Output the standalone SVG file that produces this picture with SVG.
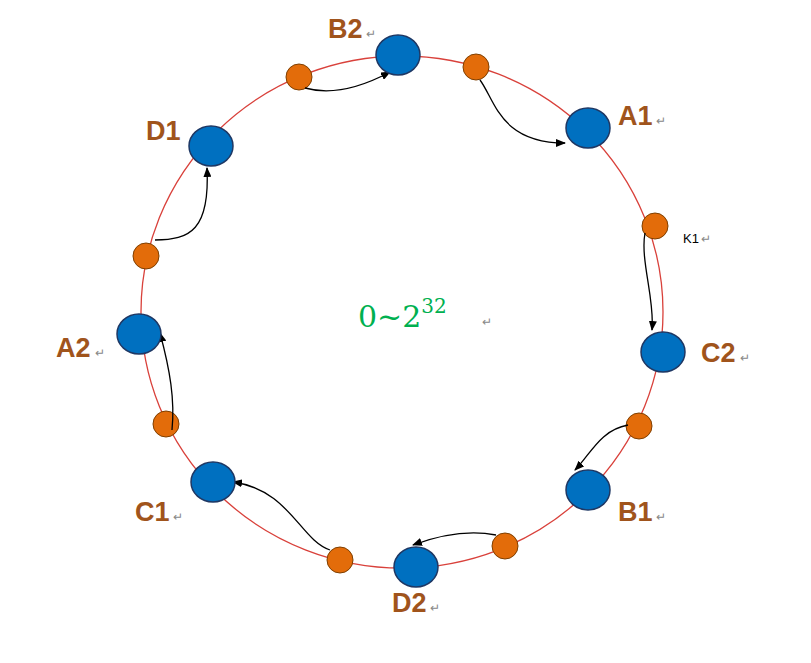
<svg xmlns="http://www.w3.org/2000/svg" width="811" height="663" viewBox="0 0 811 663">
<defs>
<marker id="ah" markerWidth="10" markerHeight="8" refX="9" refY="4" orient="auto" markerUnits="userSpaceOnUse"><path d="M0,0 L10,4 L0,8 z" fill="#000"/></marker>
<style>
.blue{fill:#0070C0;stroke:#1F3864;stroke-width:1.5}
.or{fill:#E36C0A;stroke:#7F3F00;stroke-width:1}
.lb{font-family:"Liberation Sans",Arial,sans-serif;font-weight:bold;font-size:27px;fill:#A0541C}
.rm{font-family:"Liberation Sans",sans-serif;font-size:12px;fill:#888}
.cn path{fill:none;stroke:#000;stroke-width:1.3;marker-end:url(#ah)}
</style>
</defs>
<rect width="811" height="663" fill="#fff"/>
<ellipse cx="402" cy="312" rx="261" ry="256" fill="none" stroke="#D9413B" stroke-width="1.3"/>
<g id="orange">
<circle class="or" cx="299" cy="77" r="13"/><circle class="or" cx="476" cy="67" r="13"/>
<circle class="or" cx="655" cy="226" r="13"/><circle class="or" cx="639" cy="426" r="13"/>
<circle class="or" cx="505" cy="546" r="13"/><circle class="or" cx="340" cy="560" r="13"/>
<circle class="or" cx="166" cy="424" r="13"/><circle class="or" cx="146" cy="256" r="13"/>
</g>
<g class="cn" id="connectors">
<path d="M305,88 C330,95 360,88 390,72"/>
<path d="M480,80 C495,100 500,143 565,143"/>
<path d="M645,233 C640,260 655,300 652,330"/>
<path d="M628,425 C600,430 590,455 575,470"/>
<path d="M496,535 C470,530 440,535 413,545"/>
<path d="M330,550 C300,540 290,490 233,482"/>
<path d="M172,430 C175,400 170,370 160,333"/>
<path d="M155,240 C190,240 210,230 207,168"/>
</g>
<g id="B2"><ellipse class="blue" cx="398" cy="55" rx="22" ry="20"/><text class="lb" x="328" y="38">B2</text><text class="rm" x="366" y="38">↵</text></g>
<g id="A1"><ellipse class="blue" cx="588" cy="128" rx="22" ry="20"/><text class="lb" x="618" y="125">A1</text><text class="rm" x="656" y="125">↵</text></g>
<g id="C2"><ellipse class="blue" cx="663" cy="352" rx="22" ry="20"/><text class="lb" x="701" y="362">C2</text><text class="rm" x="740" y="362">↵</text></g>
<g id="B1"><ellipse class="blue" cx="588" cy="490" rx="22" ry="20"/><text class="lb" x="618" y="521">B1</text><text class="rm" x="656" y="521">↵</text></g>
<g id="D2"><ellipse class="blue" cx="416" cy="567" rx="22" ry="20"/><text class="lb" x="392" y="612">D2</text><text class="rm" x="430" y="612">↵</text></g>
<g id="C1"><ellipse class="blue" cx="213" cy="482" rx="22" ry="20"/><text class="lb" x="135" y="521">C1</text><text class="rm" x="173" y="521">↵</text></g>
<g id="A2"><ellipse class="blue" cx="139" cy="334" rx="22" ry="20"/><text class="lb" x="56" y="357">A2</text><text class="rm" x="95" y="357">↵</text></g>
<g id="D1"><ellipse class="blue" cx="211" cy="146" rx="22" ry="20"/><text class="lb" x="146" y="140">D1</text></g>
<g id="K1"><text x="683" y="243" font-family="Liberation Sans,sans-serif" font-size="13" fill="#000">K1</text><text class="rm" x="701" y="243">↵</text></g>
<g id="label"><text x="358" y="327" font-family="DejaVu Serif,serif" font-size="30" fill="#00B050">0~2<tspan font-size="20" dy="-14">32</tspan></text><text class="rm" x="482" y="326">↵</text></g>
</svg>
